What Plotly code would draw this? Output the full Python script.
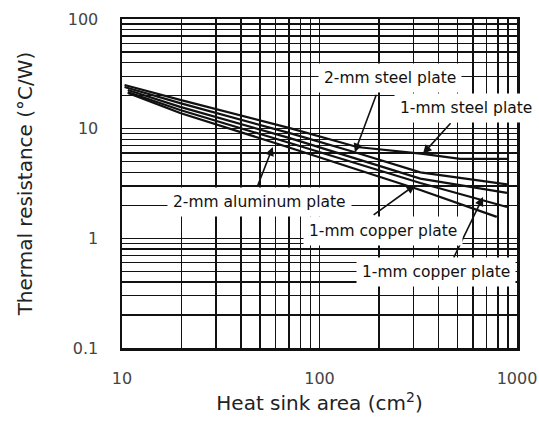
import math
import plotly.graph_objects as go

# ---- data ----
area_steel_1mm = [10.3, 19.7, 70.8, 155, 334, 515, 890]
r_steel_1mm = [25.0, 18.3, 10.1, 6.8, 5.9, 5.3, 5.3]

area_steel_2mm = [10.3, 19.7, 70.8, 151, 324, 890]
r_steel_2mm = [24.0, 17.1, 9.1, 6.1, 4.0, 3.1]

area_copper_1mm_a = [10.7, 19.7, 70.8, 324, 890]
r_copper_1mm_a = [22.5, 15.8, 8.2, 3.5, 2.6]

area_copper_1mm_b = [10.7, 19.7, 70.8, 324, 890]
r_copper_1mm_b = [21.6, 14.8, 7.4, 3.2, 1.93]

area_alu_2mm = [10.7, 19.7, 70.8, 324, 790]
r_alu_2mm = [21.2, 13.9, 6.7, 2.76, 1.57]

x_tickvals = [10, 20, 30, 40, 50, 60, 70, 80, 90,
              100, 200, 300, 400, 500, 600, 700, 800, 900, 1000]
x_ticktext = ["10", "", "", "", "", "", "", "", "",
              "100", "", "", "", "", "", "", "", "", "1000"]
y_tickvals = [0.1, 0.2, 0.3, 0.4, 0.5, 0.6, 0.7, 0.8, 0.9,
              1, 2, 3, 4, 5, 6, 7, 8, 9,
              10, 20, 30, 40, 50, 60, 70, 80, 90, 100]
y_ticktext = ["0.1", "", "", "", "", "", "", "", "",
              "1", "", "", "", "", "", "", "", "",
              "10", "", "", "", "", "", "", "", "", "100"]

label_texts = ["2-mm steel plate", "1-mm steel plate", "2-mm aluminum plate",
               "1-mm copper plate", "1-mm copper plate"]

x_title = "Heat sink area (cm<sup>2</sup>)"
y_title = "Thermal resistance (°C/W)"

# ---- figure ----
FONT = "DejaVu Sans"
fig = go.Figure()
series = [
    (area_steel_1mm, r_steel_1mm),
    (area_steel_2mm, r_steel_2mm),
    (area_copper_1mm_a, r_copper_1mm_a),
    (area_copper_1mm_b, r_copper_1mm_b),
    (area_alu_2mm, r_alu_2mm),
]
for xs, ys in series:
    fig.add_trace(go.Scatter(x=xs, y=ys, mode="lines",
                             line=dict(color="#111111", width=2.2),
                             showlegend=False, hoverinfo="skip"))

# arrow tips (data coords) and tails (pixel offsets), label centres (paper)
arrow_tips = [(151, 6.1), (334, 5.9), (58, 6.8), (305, 3.07), (673, 2.38)]
arrow_tails = [(22, -59), (29, -32), (-16, 41), (-43, 31), (-30, 62)]
label_pos = [(0.678, 0.821), (0.871, 0.729), (0.347, 0.444),
             (0.661, 0.356), (0.795, 0.231)]

for (tx, ty), (ax, ay) in zip(arrow_tips, arrow_tails):
    fig.add_annotation(x=math.log10(tx), y=math.log10(ty), xref="x", yref="y",
                       text="", showarrow=True, ax=ax, ay=ay,
                       arrowhead=2, arrowsize=1.1, arrowwidth=1.6,
                       arrowcolor="#111111", standoff=0)
for txt, (px, py) in zip(label_texts, label_pos):
    fig.add_annotation(x=px, y=py, xref="paper", yref="paper", text=txt,
                       showarrow=False, bgcolor="white", borderpad=5,
                       font=dict(family=FONT, size=15.5, color="#111111"),
                       xanchor="center", yanchor="middle")

axis_common = dict(
    type="log", showgrid=True, gridcolor="#111111", gridwidth=1.5,
    showline=True, linecolor="#111111", linewidth=2.5, mirror=True,
    ticks="", zeroline=False, automargin=False,
    tickfont=dict(family=FONT, size=16, color="#444444"),
    title_font=dict(family=FONT, size=20, color="#222222"),
)
fig.update_xaxes(range=[1, 3], tickvals=x_tickvals, ticktext=x_ticktext,
                 ticklabelstandoff=14, title_text=x_title, title_standoff=10,
                 **axis_common)
fig.update_yaxes(range=[-1, 2], tickvals=y_tickvals, ticktext=y_ticktext,
                 ticklabelstandoff=18, title_text=y_title, title_standoff=30,
                 **axis_common)

fig.update_layout(
    width=539, height=425,
    margin=dict(l=122, r=22, t=19, b=77),
    plot_bgcolor="white", paper_bgcolor="white",
    font=dict(family=FONT),
)

fig.write_html("out.html",
               config={"displayModeBar": False, "staticPlot": True},
               post_script="document.body.style.margin='0';"
                           "document.body.style.overflow='hidden';")
